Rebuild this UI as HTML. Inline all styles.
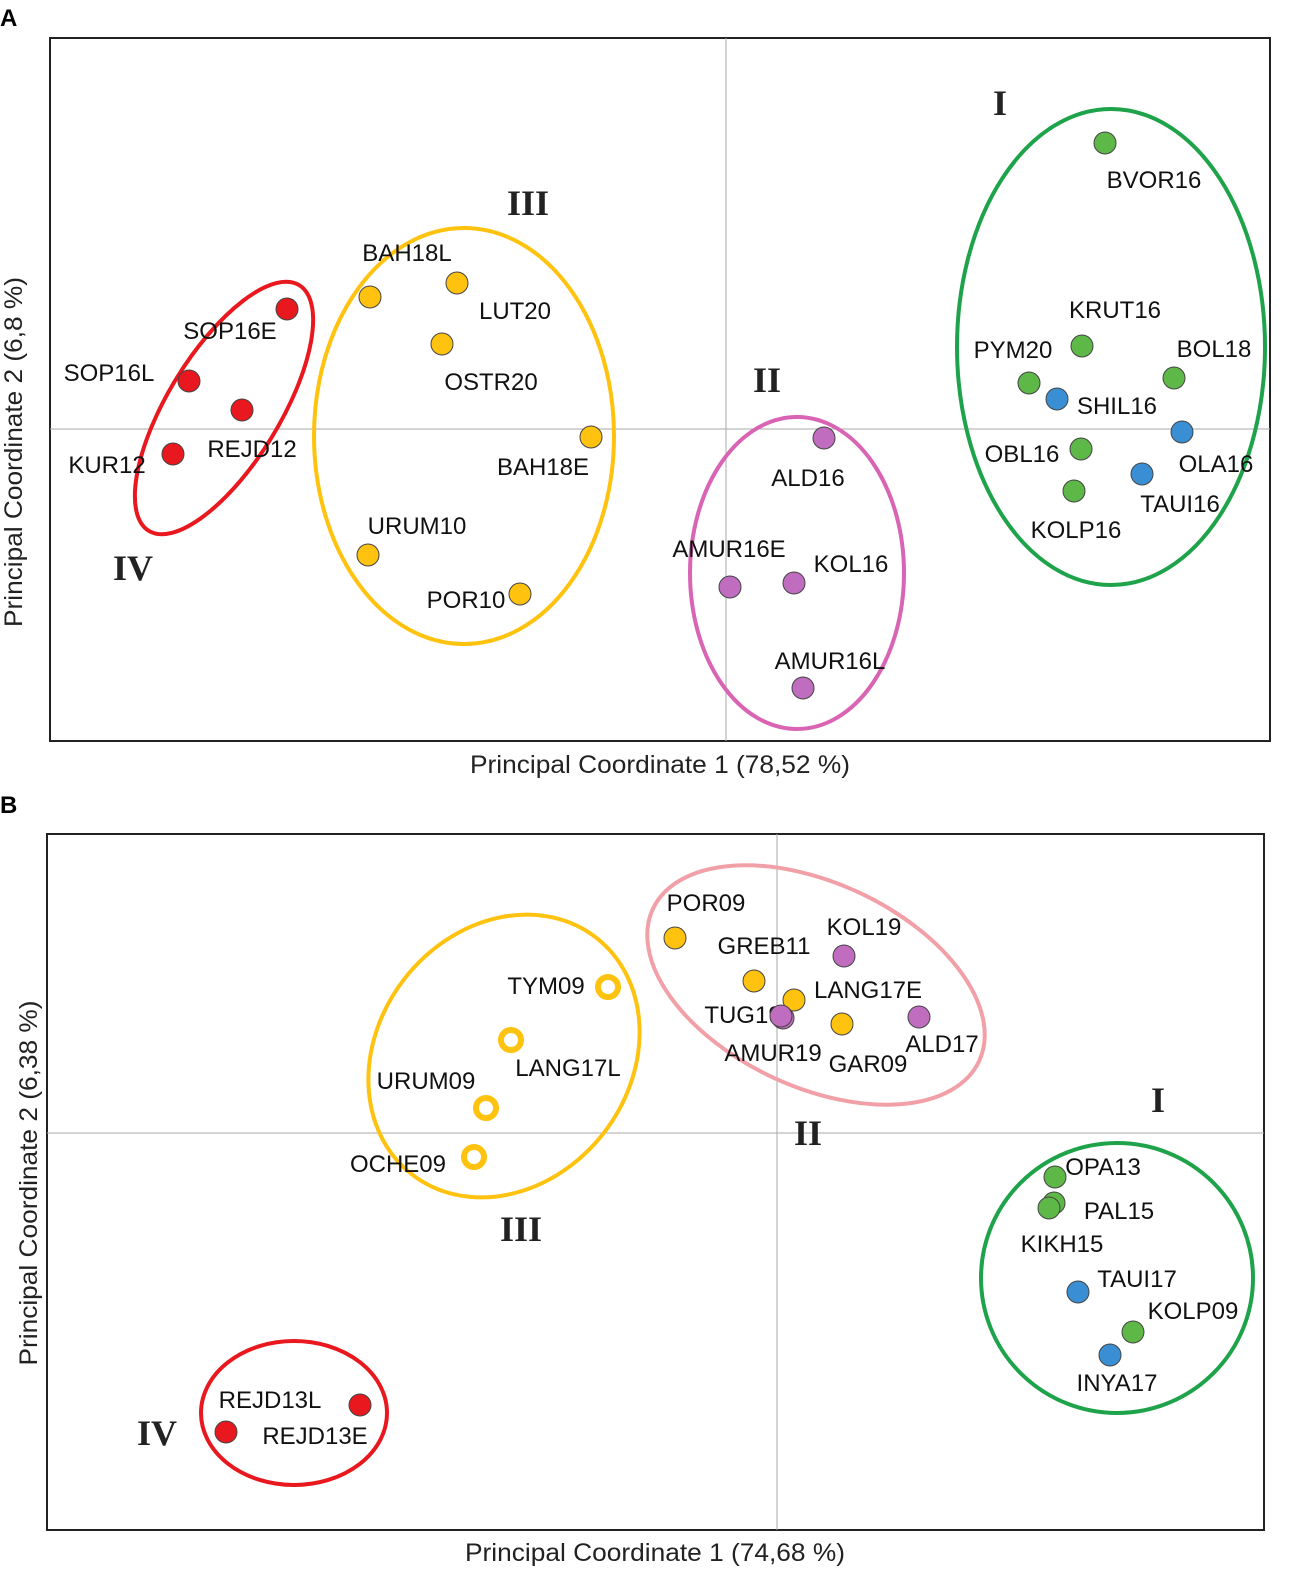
<!DOCTYPE html>
<html><head><meta charset="utf-8"><style>
body{margin:0;background:#fff}
svg{display:block}
text{font-family:"Liberation Sans",sans-serif}
.lbl{font-size:24px;fill:#111}
.rn{font-family:"Liberation Serif",serif;font-size:36px;font-weight:bold;fill:#222}
.ax{font-size:25px;fill:#222}
</style></head><body>
<svg id="chart" width="1302" height="1596" viewBox="0 0 1302 1596">
<text x="0" y="26" font-size="24" font-weight="bold">A</text>
<text x="0" y="813" font-size="24" font-weight="bold">B</text>
<g id="pa"></g>
<g id="pb"></g>
</svg>
<script>
// Panel A data (PCo1, PCo2 in arbitrary scaled units)
const aNames=["SOP16E","SOP16L","REJD12","KUR12","BAH18L","LUT20","OSTR20","BAH18E","URUM10","POR10","ALD16","AMUR16E","KOL16","AMUR16L","BVOR16","KRUT16","PYM20","BOL18","OBL16","KOLP16","SHIL16","OLA16","TAUI16"];
const aX=[-4.39,-5.37,-4.84,-5.53,-3.56,-2.69,-2.84,-1.35,-3.58,-2.06,0.98,0.04,0.68,0.77,3.79,3.56,3.03,4.48,3.55,3.48,3.31,4.56,4.16];
const aY=[1.20,0.48,0.19,-0.25,1.32,1.46,0.85,-0.08,-1.26,-1.65,-0.09,-1.58,-1.54,-2.59,2.86,0.83,0.46,0.51,-0.20,-0.62,0.30,-0.03,-0.45];
const aGroup=["r","r","r","r","y","y","y","y","y","y","p","p","p","p","g","g","g","g","g","g","b","b","b"];
// Panel B data
const bNames=["POR09","GREB11","LANG17E","GAR09","KOL19","ALD17","TUG19","AMUR19","TYM09","LANG17L","URUM09","OCHE09","OPA13","PAL15","KIKH15","KOLP09","TAUI17","INYA17","REJD13L","REJD13E"];
const bX=[-1.02,-0.23,0.17,0.65,0.67,1.42,0.06,0.04,-1.69,-2.66,-2.91,-3.03,2.78,2.77,2.72,3.56,3.01,3.33,-4.17,-5.51];
const bY=[1.95,1.52,1.33,1.09,1.77,1.16,1.15,1.17,1.46,0.93,0.25,-0.24,-0.44,-0.70,-0.75,-1.99,-1.59,-2.22,-2.72,-2.99];
const bGroup=["y","y","y","y","p","p","p","p","o","o","o","o","g","g","g","g","b","b","r","r"];
</script>
<script>
const NS="http://www.w3.org/2000/svg";
const col={r:"#e8181e",y:"#ffc20e",p:"#c06dbf",g:"#5db847",b:"#3a8fd4",o:"#ffc20e"};
function mk(t,at,p){const e=document.createElementNS(NS,t);for(const k in at)e.setAttribute(k,at[k]);p.appendChild(e);return e;}
function panel(g,box,ox,oy,names,xs,ys,grp,lab,ells,nums,xt,yt){
  const sx=v=>ox+v*100, sy=v=>oy-v*100;
  const f=mk("rect",{x:box[0],y:box[1],width:box[2]-box[0],height:box[3]-box[1],fill:"none",stroke:"#222","stroke-width":2},g);
  
  const h=mk("line",{x1:box[0],x2:box[2],y1:oy,y2:oy,stroke:"#aaa","stroke-width":1},g);
  
  const v=mk("line",{x1:ox,x2:ox,y1:box[1],y2:box[3],stroke:"#aaa","stroke-width":1},g);
  
  ells.forEach(e=>{const el=mk("ellipse",{cx:e[0],cy:e[1],rx:e[2],ry:e[3],transform:`rotate(${e[4]} ${e[0]} ${e[1]})`,fill:"none",stroke:e[5],"stroke-width":4},g);
    });
  nums.forEach(n=>{const t=mk("text",{x:n[0],y:n[1],class:"rn","text-anchor":"middle"},g);t.textContent=n[2];
    });
  names.forEach((nm,i)=>{const X=sx(xs[i]),Y=sy(ys[i]);
    let c;
    if(grp[i]==="o"){c=mk("circle",{cx:X,cy:Y,r:10,fill:"#fff",stroke:col.o,"stroke-width":6},g);}
    else c=mk("circle",{cx:X,cy:Y,r:11,fill:col[grp[i]],stroke:"#444","stroke-width":1},g);
    
    const t=mk("text",{x:X+lab[i][0],y:Y+lab[i][1],class:"lbl","text-anchor":"middle"},g);t.textContent=nm;
    });
  const a=mk("text",{x:xt[0],y:xt[1],class:"ax","text-anchor":"middle",textLength:380,lengthAdjust:"spacingAndGlyphs"},g);a.textContent=xt[2];
  
  const b=mk("text",{x:0,y:0,class:"ax","text-anchor":"middle",textLength:yt[3],lengthAdjust:"spacingAndGlyphs",transform:`translate(${yt[0]},${yt[1]}) rotate(-90)`},g);b.textContent=yt[2];
  
}
const aLab=[[-57,30],[-80,0],[10,47],[-66,19],[37,-36],[58,36],[49,46],[-48,38],[49,-21],[-54,14],[-16,48],[-1,-30],[57,-11],[27,-19],[49,45],[33,-28],[-16,-25],[40,-21],[-59,13],[2,47],[60,15],[34,40],[38,38]];
const bLab=[[31,-27],[10,-27],[74,-2],[26,48],[20,-21],[23,35],[-40,5],[-8,45],[-62,7],[57,36],[-60,-19],[-76,15],[48,-2],[65,16],[13,44],[60,-13],[59,-5],[7,36],[-90,3],[89,12]];
panel(document.getElementById("pa"),[50,38,1270,741],726,429,aNames,aX,aY,aGroup,aLab,
 [[224,408,144,56,-58.5,"#e8181e"],[464,436,150,208,0,"#ffc20e"],[797,573,107,156,0,"#d964b4"],[1111,347,154,238,0,"#1ea34a"]],
 [[1000,115,"I"],[528,215,"III"],[767,392,"II"],[133,580,"IV"]],
 [660,773,"Principal Coordinate 1 (78,52 %)"],[22,452,"Principal Coordinate 2 (6,8 %)",350]);
panel(document.getElementById("pb"),[47,834,1264,1530],777,1133,bNames,bX,bY,bGroup,bLab,
 [[816,985,180,102,25,"#f2a0a8"],[504,1056,150,126,-52,"#ffc20e"],[1117,1278,136,135,0,"#1ea34a"],[294,1413,93,72,0,"#e8181e"]],
 [[1158,1112,"I"],[808,1145,"II"],[521,1241,"III"],[157,1445,"IV"]],
 [655,1561,"Principal Coordinate 1 (74,68 %)"],[37,1183,"Principal Coordinate 2 (6,38 %)",365]);
</script>
</body></html>
